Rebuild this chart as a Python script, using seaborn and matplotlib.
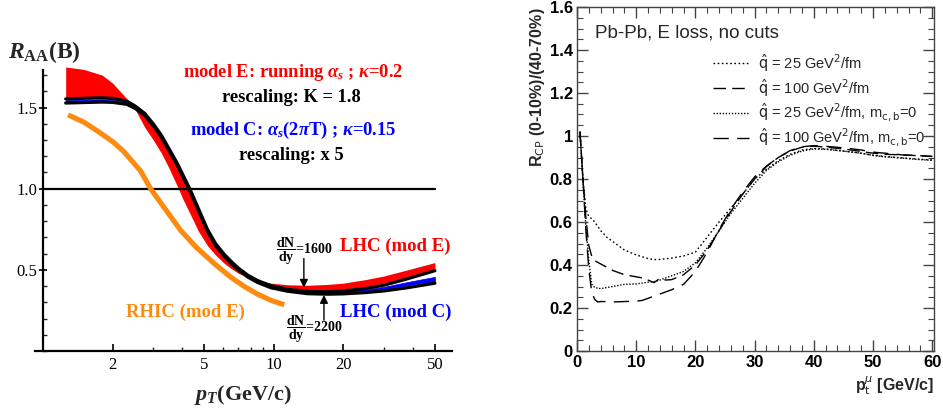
import numpy as np
import pandas as pd
import matplotlib
matplotlib.use('Agg')
import matplotlib.pyplot as plt
import seaborn as sns
from matplotlib.ticker import FixedLocator, MultipleLocator, FuncFormatter, NullFormatter

# ---------------- Left panel data: R_AA(B) ----------------
pt_band = [1.25, 1.5, 1.8, 2.0, 2.3, 2.5, 2.75, 3.0, 3.25, 3.5, 3.8, 4.05, 4.35, 4.7, 5.15,
           5.6, 6.1, 6.5, 7.0, 7.7, 8.5, 9.7, 11.5, 14, 17, 20, 25, 30, 38, 50]
modE_a = [1.75, 1.735, 1.70, 1.65, 1.555, 1.49, 1.38, 1.30, 1.22, 1.13, 1.02, 0.93, 0.84, 0.74, 0.65,
          0.59, 0.54, 0.51, 0.48, 0.455, 0.435, 0.418, 0.408, 0.405, 0.41, 0.418, 0.44, 0.462, 0.50, 0.545]
modE_b = [1.553, 1.557, 1.56, 1.556, 1.54, 1.51, 1.465, 1.40, 1.33, 1.25, 1.16, 1.08, 0.99, 0.88, 0.75,
          0.66, 0.595, 0.555, 0.512, 0.47, 0.44, 0.413, 0.39, 0.378, 0.376, 0.382, 0.397, 0.418, 0.457, 0.506]
modC_hi = [1.545, 1.548, 1.551, 1.547, 1.532, 1.503, 1.459, 1.394, 1.324, 1.244, 1.154, 1.074, 0.984, 0.874, 0.744,
           0.655, 0.59, 0.55, 0.515, 0.472, 0.44, 0.41, 0.385, 0.37, 0.368, 0.37, 0.38, 0.395, 0.425, 0.457]
modC_lo = [1.537, 1.54, 1.543, 1.539, 1.526, 1.5, 1.456, 1.392, 1.322, 1.242, 1.152, 1.072, 0.982, 0.872, 0.742,
           0.652, 0.587, 0.547, 0.505, 0.462, 0.43, 0.398, 0.375, 0.36, 0.357, 0.36, 0.37, 0.38, 0.405, 0.43]
black_hi = [1.553, 1.557, 1.56, 1.556, 1.54, 1.51, 1.465, 1.40, 1.33, 1.25, 1.16, 1.08, 0.99, 0.88, 0.75,
            0.66, 0.595, 0.555, 0.512, 0.468, 0.434, 0.403, 0.38, 0.367, 0.365, 0.37, 0.385, 0.405, 0.445, 0.495]
black_lo = [1.528, 1.531, 1.534, 1.532, 1.52, 1.495, 1.452, 1.388, 1.318, 1.238, 1.148, 1.068, 0.978, 0.868, 0.738,
            0.648, 0.583, 0.543, 0.5, 0.456, 0.422, 0.39, 0.368, 0.353, 0.35, 0.352, 0.36, 0.37, 0.39, 0.418]
pt_rhic = [1.28, 1.5, 1.77, 2.0, 2.23, 2.64, 2.92, 3.3, 3.94, 4.6, 5.5, 6.5, 7.5, 8.5, 9.8, 11.1]
rhic_modE = [1.455, 1.41, 1.343, 1.29, 1.23, 1.11, 1.0, 0.895, 0.744, 0.64, 0.54, 0.455, 0.395, 0.35, 0.31, 0.285]
ref_pt = [1.0, 50.0]
ref_level = [1.0, 1.0]
left_xticks = [2, 5, 10, 20, 50]
left_xminor = [3, 4, 6, 7, 8, 9, 30, 40]
left_yticks = [0.5, 1.0, 1.5]
left_ytick_labels = ['0.5', '1.0', '1.5']
dndy_values = ['1600', '2200']
dndy_pt = [13.5, 16.5]
dndy_tail = [0.57, 0.19]
dndy_tip = [0.39, 0.345]

# ---------------- Right panel data: R_CP ----------------
pt_q25 = [0.5, 1.0, 1.5, 2.0, 2.5, 3, 4, 5, 6, 8, 10, 12, 13, 14, 16, 18, 20, 22, 24, 26, 28, 30, 32, 34, 36, 38, 40, 42, 45, 48, 50, 52, 55, 58, 60]
rcp_q25 = [1.02, 0.80, 0.66, 0.625, 0.615, 0.60, 0.56, 0.53, 0.51, 0.47, 0.447, 0.43, 0.425, 0.426, 0.432, 0.442, 0.46, 0.53, 0.60, 0.665, 0.73, 0.80, 0.845, 0.885, 0.915, 0.935, 0.942, 0.94, 0.93, 0.92, 0.91, 0.905, 0.898, 0.892, 0.888]
pt_q100 = [0.5, 1.0, 1.5, 2.0, 2.5, 3, 4, 5, 6, 8, 10, 11, 12, 13, 14, 15, 16, 18, 20, 22, 24, 26, 28, 30, 32, 34, 36, 38, 40, 42, 45, 48, 50, 52, 55, 58, 60]
rcp_q100 = [1.02, 0.80, 0.62, 0.49, 0.44, 0.42, 0.405, 0.39, 0.375, 0.355, 0.345, 0.34, 0.33, 0.318, 0.338, 0.33, 0.332, 0.355, 0.40, 0.47, 0.56, 0.65, 0.73, 0.80, 0.858, 0.90, 0.93, 0.948, 0.953, 0.948, 0.94, 0.928, 0.92, 0.915, 0.912, 0.908, 0.905]
pt_q25m0 = [0.5, 1.0, 1.5, 2.0, 2.5, 3, 4, 5, 6, 8, 10, 12, 13, 14, 16, 18, 20, 22, 24, 26, 28, 30, 32, 34, 36, 38, 40, 42, 45, 48, 50, 52, 55, 58, 60]
rcp_q25m0 = [1.02, 0.80, 0.58, 0.42, 0.31, 0.295, 0.29, 0.295, 0.30, 0.31, 0.312, 0.32, 0.322, 0.33, 0.35, 0.37, 0.41, 0.48, 0.56, 0.64, 0.71, 0.78, 0.84, 0.88, 0.91, 0.93, 0.94, 0.938, 0.93, 0.92, 0.91, 0.903, 0.897, 0.89, 0.887]
pt_q100m0 = [0.5, 1.0, 1.5, 2.0, 2.5, 3, 3.5, 4, 5, 6, 8, 10, 11, 12, 14, 16, 18, 20, 22, 24, 26, 28, 30, 32, 34, 36, 38, 40, 42, 45, 48, 50, 52, 55, 58, 60]
rcp_q100m0 = [1.02, 0.80, 0.56, 0.38, 0.27, 0.24, 0.228, 0.23, 0.23, 0.228, 0.23, 0.232, 0.235, 0.245, 0.265, 0.285, 0.31, 0.37, 0.46, 0.565, 0.66, 0.74, 0.81, 0.86, 0.90, 0.932, 0.95, 0.955, 0.952, 0.945, 0.935, 0.925, 0.92, 0.912, 0.908, 0.905]
series_labels = [r'$\hat{\mathrm{q}}$ = 25 GeV$^{2}$/fm',
                 r'$\hat{\mathrm{q}}$ = 100 GeV$^{2}$/fm',
                 r'$\hat{\mathrm{q}}$ = 25 GeV$^{2}$/fm, m$_{\mathrm{c,b}}$=0',
                 r'$\hat{\mathrm{q}}$ = 100 GeV$^{2}$/fm, m$_{\mathrm{c,b}}$=0']

# ---------------- style ----------------
sns.set_style('ticks')
plt.rcParams['font.family'] = ['Liberation Sans', 'DejaVu Sans']
plt.rcParams['mathtext.fontset'] = 'custom'
plt.rcParams['mathtext.rm'] = 'Liberation Serif:bold'
plt.rcParams['mathtext.it'] = 'Liberation Serif:italic:bold'
plt.rcParams['mathtext.bf'] = 'Liberation Serif:bold'

RED = '#ff0000'
BLUE = '#0000ff'
ORANGE = '#ff8a10'
SERIF = ['Liberation Serif', 'DejaVu Serif']

fig = plt.figure(figsize=(9.43, 4.09), dpi=100)

# ================= Left panel =================
ax1 = fig.add_axes([35 / 943, 1 - 351 / 409, 417 / 943, 284 / 409])
ax1.set_xscale('log')
ax1.set_xlim(0.92, 59.3)
ax1.set_ylim(0, 1.75)

sns.lineplot(x=ref_pt, y=ref_level, ax=ax1, color='black', lw=1.6, legend=False)
sns.lineplot(x=pt_rhic, y=rhic_modE, ax=ax1, color=ORANGE, lw=3.7, legend=False,
             solid_capstyle='butt')
ax1.fill_between(pt_band, modE_a, modE_b, color=RED, lw=0, interpolate=True)
sns.lineplot(x=pt_band, y=black_hi, ax=ax1, color='black', lw=2.3, legend=False)
sns.lineplot(x=pt_band, y=black_lo, ax=ax1, color='black', lw=2.3, legend=False)
ax1.fill_between(pt_band, modC_lo, modC_hi, color=BLUE, lw=0.5, edgecolor=BLUE)

for s in ['top', 'right']:
    ax1.spines[s].set_visible(False)
ax1.spines['left'].set_position(('data', 1.0))
ax1.spines['left'].set_bounds(0, 1.73)
for s in ['left', 'bottom']:
    ax1.spines[s].set_linewidth(1.6)
    ax1.spines[s].set_color('black')

ax1.xaxis.set_major_locator(FixedLocator(left_xticks))
ax1.xaxis.set_minor_locator(FixedLocator(left_xminor))
ax1.xaxis.set_major_formatter(FuncFormatter(lambda v, p: '%g' % v))
ax1.xaxis.set_minor_formatter(NullFormatter())
ax1.yaxis.set_major_locator(FixedLocator(left_yticks))
ax1.set_yticklabels(left_ytick_labels)
ax1.yaxis.set_minor_locator(MultipleLocator(0.1))
ax1.tick_params(axis='both', which='major', direction='in', length=5, width=1.2,
                labelsize=12, colors='black', pad=4)
ax1.tick_params(axis='y', which='major', direction='inout', length=6, pad=1.5)
ax1.tick_params(axis='both', which='minor', direction='in', length=3, width=1.0)
for lab in ax1.get_xticklabels() + ax1.get_yticklabels():
    lab.set_family(SERIF)
ax1.set_xlabel('')
ax1.set_ylabel('')

ann = dict(transform=ax1.transAxes, family=SERIF, fontweight='bold')
ax1.text(0.619, 0.979, r'model E: running $\alpha_s$ ; $\kappa$=0.2', color=RED,
         ha='center', va='center', fontsize=13.3, **ann)
ax1.text(0.614, 0.891, 'rescaling: K = 1.8', color='black', ha='center', va='center',
         fontsize=13.3, **ann)
ax1.text(0.619, 0.775, r'model C: $\alpha_s$(2$\pi$T) ; $\kappa$=0.15', color=BLUE,
         ha='center', va='center', fontsize=13.3, **ann)
ax1.text(0.614, 0.690, 'rescaling: x 5', color='black', ha='center', va='center',
         fontsize=13.3, **ann)
ax1.text(0.731, 0.370, 'LHC (mod E)', color=RED, ha='left', va='center', fontsize=13.5, **ann)
ax1.text(0.731, 0.137, 'LHC (mod C)', color=BLUE, ha='left', va='center', fontsize=13.5, **ann)
ax1.text(0.218, 0.137, 'RHIC (mod E)', color=ORANGE, ha='left', va='center', fontsize=13.5, **ann)

ax1.text(0.578, 0.352, r'$\dfrac{\mathrm{dN}}{\mathrm{dy}}$=' + dndy_values[0], color='black',
         ha='left', va='center', fontsize=10, **ann)
ax1.text(0.602, 0.075, r'$\dfrac{\mathrm{dN}}{\mathrm{dy}}$=' + dndy_values[1], color='black',
         ha='left', va='center', fontsize=10, **ann)
for xp, yt, yh in zip(dndy_pt, dndy_tail, dndy_tip):
    ax1.annotate('', xy=(xp, yh), xytext=(xp, yt),
                 arrowprops=dict(arrowstyle='-|>', color='black', lw=1.0,
                                 mutation_scale=12, shrinkA=0, shrinkB=0))

fig.text(8 / 943, 1 - 58 / 409, r'$R_{\mathrm{AA}}$(B)', fontsize=17, fontweight='bold',
         family=SERIF, ha='left', va='baseline')
fig.text(243 / 943, 1 - 400 / 409, r'$p_T$(GeV/c)', fontsize=16, fontweight='bold',
         family=SERIF, ha='center', va='baseline')

# ================= Right panel =================
ax2 = fig.add_axes([577 / 943, 1 - 351 / 409, 357 / 943, 344 / 409])
ax2.set_xlim(0, 60.3)
ax2.set_ylim(0, 1.6)

styles = [(0, (1.2, 1.8)), (0, (9, 4.5)), (0, (1.0, 1.2)), (0, (11, 6))]
xs = [pt_q25, pt_q100, pt_q25m0, pt_q100m0]
ys = [rcp_q25, rcp_q100, rcp_q25m0, rcp_q100m0]
for x, y, ls, lab in zip(xs, ys, styles, series_labels):
    sns.lineplot(x=x, y=y, ax=ax2, color='black', lw=1.0, label=lab)
    ax2.lines[-1].set_linestyle(ls)

for s in ax2.spines.values():
    s.set_color('#444444')
    s.set_linewidth(1.0)
ax2.xaxis.set_major_locator(MultipleLocator(10))
ax2.xaxis.set_minor_locator(MultipleLocator(2))
ax2.yaxis.set_major_locator(MultipleLocator(0.2))
ax2.yaxis.set_minor_locator(MultipleLocator(0.05))
fmt = FuncFormatter(lambda v, p: '%g' % round(v, 3))
ax2.xaxis.set_major_formatter(fmt)
ax2.yaxis.set_major_formatter(fmt)
ax2.tick_params(axis='both', which='both', direction='in', top=True, right=True,
                color='#444444', labelcolor='black')
ax2.tick_params(axis='both', which='major', length=8, width=1.0, labelsize=12, pad=3)
ax2.tick_params(axis='both', which='minor', length=4, width=0.8)
for lab in ax2.get_xticklabels() + ax2.get_yticklabels():
    lab.set_fontweight('bold')

ax2.set_ylabel(r'R$_{\mathrm{CP}}$ (0-10%)/(40-70%)', fontsize=11.5, fontweight='bold', loc='top')
ax2.yaxis.set_label_coords(-0.085, 1.0)
ax2.yaxis.label.set_math_fontfamily('dejavusans')
ax2.set_xlabel(r'p$_{\mathrm{t}}^{\mu}$ [GeV/c]', fontsize=11.5, fontweight='bold', loc='right')
ax2.xaxis.set_label_coords(1.0, -0.068)
ax2.xaxis.label.set_math_fontfamily('dejavusans')

ax2.text(0.05, 0.925, 'Pb-Pb, E loss, no cuts', transform=ax2.transAxes, fontsize=13.5,
         ha='left', va='center')

leg = ax2.legend(loc='upper left', bbox_to_anchor=(0.38, 0.87), frameon=False,
                 fontsize=10.5, handlelength=2.5, handletextpad=0.6, labelspacing=0.22,
                 borderpad=0, borderaxespad=0)
for t in leg.get_texts():
    t.set_math_fontfamily('dejavusans')

fig.savefig('out.png', dpi=100)
